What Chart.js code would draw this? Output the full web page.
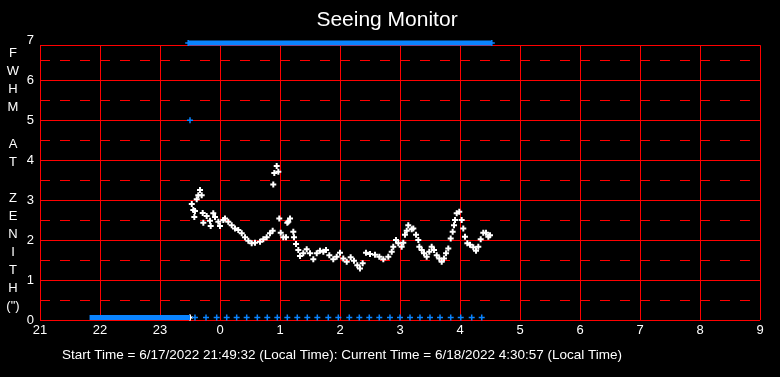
<!DOCTYPE html>
<html>
<head>
<meta charset="utf-8">
<script src="https://cdn.jsdelivr.net/npm/chart.js@4.4.0/dist/chart.umd.min.js"></script>
<style>
  html, body { margin: 0; padding: 0; background: #000; }
  #seeingChart { display: block; }
</style>
</head>
<body>
<canvas id="seeingChart" width="780" height="377"></canvas>
<script>
// hours are counted from 21:00 of the start day, so 24 = 0h, 28 = 4h
var xTicks = [21, 22, 23, 24, 25, 26, 27, 28, 29, 30, 31, 32, 33];
var yTicks = [0, 1, 2, 3, 4, 5, 6, 7];

var seeingTimes = [23.53, 23.555, 23.572, 23.583, 23.612, 23.638, 23.667, 23.695, 23.712, 23.722, 23.778, 23.833, 23.845, 23.888, 23.917, 23.972,
  24.0, 24.055, 24.083, 24.138, 24.195, 24.25, 24.305, 24.362, 24.417, 24.472, 24.528, 24.583, 24.667, 24.722, 24.778, 24.833, 24.878,
  24.888, 24.905, 24.945, 24.972, 24.988, 25.012, 25.055, 25.1, 25.122, 25.138, 25.167, 25.222, 25.233, 25.267, 25.305, 25.333, 25.388,
  25.445, 25.5, 25.555, 25.612, 25.667, 25.722, 25.767, 25.822, 25.888, 25.945, 26.0, 26.055, 26.112, 26.178, 26.233, 26.288, 26.333,
  26.378, 26.433, 26.5, 26.583, 26.655, 26.722, 26.805, 26.862, 26.888, 26.933, 26.972, 27.028, 27.055, 27.083, 27.112, 27.138, 27.195,
  27.222, 27.267, 27.305, 27.322, 27.362, 27.4, 27.445, 27.488, 27.528, 27.567, 27.612, 27.655, 27.695, 27.733, 27.767, 27.805, 27.845,
  27.878, 27.9, 27.917, 27.945, 27.988, 28.028, 28.055, 28.083, 28.122, 28.167, 28.222, 28.267, 28.305, 28.345, 28.388, 28.433, 28.472, 28.5,
  23.5];
var seeingValues = [2.9, 2.75, 2.58, 2.73, 3.02, 3.12, 3.25, 3.12, 2.68, 2.43, 2.6, 2.48, 2.35, 2.67, 2.58, 2.46,
  2.35, 2.5, 2.54, 2.46, 2.37, 2.29, 2.25, 2.17, 2.07, 1.98, 1.92, 1.93, 1.96, 2.02, 2.07, 2.17, 2.23,
  3.39, 3.68, 3.85, 3.71, 2.54, 2.18, 2.07, 2.07, 2.43, 2.46, 2.54, 2.21, 2.07, 1.9, 1.75, 1.6, 1.67,
  1.77, 1.67, 1.52, 1.67, 1.73, 1.71, 1.75, 1.62, 1.52, 1.58, 1.68, 1.54, 1.46, 1.57, 1.48, 1.37, 1.29,
  1.42, 1.68, 1.65, 1.63, 1.58, 1.52, 1.58, 1.71, 1.83, 2.0, 1.92, 1.83, 1.93, 2.13, 2.23, 2.37, 2.27,
  2.29, 2.13, 2.0, 1.83, 1.75, 1.67, 1.58, 1.71, 1.83, 1.75, 1.62, 1.54, 1.46, 1.54, 1.67, 1.79, 2.04,
  2.21, 2.37, 2.5, 2.67, 2.71, 2.5, 2.29, 2.08, 1.92, 1.88, 1.82, 1.73, 1.83, 2.02, 2.18, 2.18, 2.08, 2.12,
  0.06];

// blue status rows
var openTimes = [23.47, 28.53];
var openValues = [6.93, 6.93];
var closedTimes = [21.826, 23.5];
var closedValues = [0.06, 0.06];
var sampleTimes = [23.583, 23.767, 23.945, 24.112, 24.278, 24.445, 24.622, 24.788, 24.955, 25.122, 25.288, 25.455, 25.622, 25.805,
  25.972, 26.155, 26.322, 26.488, 26.655, 26.833, 27.0, 27.167, 27.333, 27.5, 27.667, 27.845, 28.012, 28.195, 28.362, 23.5];
var sampleValues = [0.06, 0.06, 0.06, 0.06, 0.06, 0.06, 0.06, 0.06, 0.06, 0.06, 0.06, 0.06, 0.06, 0.06,
  0.06, 0.06, 0.06, 0.06, 0.06, 0.06, 0.06, 0.06, 0.06, 0.06, 0.06, 0.06, 0.06, 0.06, 0.06, 5.0];

var yTitleLetters = ['F', 'W', 'H', 'M', '', 'A', 'T', '', 'Z', 'E', 'N', 'I', 'T', 'H', '(")'];
var footerText = 'Start Time = 6/17/2022 21:49:32 (Local Time): Current Time = 6/18/2022 4:30:57 (Local Time)';

var FONT = "'Liberation Sans', Arial, sans-serif";
var BLUE = '#0a84ff';
var RED = '#ff0000';

function toXY(xs, ys) {
  var out = [];
  for (var i = 0; i < xs.length; i++) out.push({ x: xs[i], y: ys[i] });
  return out;
}

var framePlugin = {
  id: 'frame',
  beforeDraw: function(chart) {
    var c = chart.ctx;
    c.save();
    c.fillStyle = '#000';
    c.fillRect(0, 0, chart.width, chart.height);
    c.restore();
  },
  beforeDatasetsDraw: function(chart) {
    var c = chart.ctx, a = chart.chartArea, y = chart.scales.y;
    c.save();
    c.strokeStyle = RED;
    c.lineWidth = 1;
    c.setLineDash([10, 10]);
    for (var v = 0.5; v < 7; v += 1) {
      var py = Math.round(y.getPixelForValue(v)) + 0.5;
      c.beginPath(); c.moveTo(a.left, py); c.lineTo(a.right, py); c.stroke();
    }
    c.setLineDash([]);
    c.beginPath(); c.moveTo(a.left, Math.round(a.top) + 0.5); c.lineTo(a.right, Math.round(a.top) + 0.5); c.stroke();
    c.restore();
  },
  afterDraw: function(chart) {
    var c = chart.ctx;
    c.save();
    c.fillStyle = '#fff';
    c.font = '13px ' + FONT;
    c.textAlign = 'center';
    c.textBaseline = 'middle';
    for (var i = 0; i < yTitleLetters.length; i++) c.fillText(yTitleLetters[i], 13, 53.5 + i * 18.1);
    c.font = '13.5px ' + FONT;
    c.textAlign = 'left';
    c.fillText(footerText, 62, 355);
    c.restore();
  }
};

var ctx = document.getElementById('seeingChart').getContext('2d');
var seeingChartInstance = new Chart(ctx, {
  type: 'scatter',
  data: {
    datasets: [
      { label: 'Open', data: toXY(openTimes, openValues), showLine: true, borderColor: BLUE, backgroundColor: BLUE, borderWidth: 5,
        pointStyle: 'cross', pointRadius: 3, pointBorderWidth: 1.5, clip: false },
      { label: 'Closed', data: toXY(closedTimes, closedValues), showLine: true, borderColor: BLUE, backgroundColor: BLUE, borderWidth: 5,
        pointRadius: 0, clip: false },
      { label: 'Samples', data: toXY(sampleTimes, sampleValues), borderColor: BLUE, backgroundColor: BLUE,
        pointStyle: 'cross', pointRadius: 3, pointBorderWidth: 1.5, clip: false },
      { label: 'FWHM', data: toXY(seeingTimes, seeingValues), borderColor: '#fff', backgroundColor: '#fff',
        pointStyle: 'cross', pointRadius: 3, pointBorderWidth: 2, clip: false }
    ]
  },
  options: {
    responsive: false,
    animation: false,
    layout: { padding: { left: 14, right: 20, top: 0, bottom: 0 } },
    plugins: {
      legend: { display: false },
      tooltip: { enabled: false },
      title: { display: true, text: 'Seeing Monitor', color: '#fff', font: { family: FONT, size: 21, weight: 'normal' }, padding: { top: 8, bottom: 12 } }
    },
    scales: {
      x: {
        type: 'linear', min: 21, max: 33,
        afterBuildTicks: function(s) { s.ticks = xTicks.map(function(v) { return { value: v }; }); },
        afterFit: function(s) { s.height = 57; },
        ticks: { color: '#fff', font: { family: FONT, size: 13 }, padding: 3, autoSkip: false, maxRotation: 0,
          callback: function(v) { return String(v % 24); } },
        grid: { color: RED, lineWidth: 1, drawTicks: false },
        border: { display: false }
      },
      y: {
        type: 'linear', min: 0, max: 6.875,
        afterBuildTicks: function(s) { s.ticks = yTicks.map(function(v) { return { value: v }; }); },
        afterFit: function(s) { s.width = 26; },
        ticks: { color: '#fff', font: { family: FONT, size: 13 }, padding: 6, autoSkip: false },
        grid: { color: function(c) { return c.tick && c.tick.value > 6.9 ? 'rgba(0,0,0,0)' : RED; }, lineWidth: 1, drawTicks: false },
        border: { display: false }
      }
    }
  },
  plugins: [framePlugin]
});
</script>
</body>
</html>
